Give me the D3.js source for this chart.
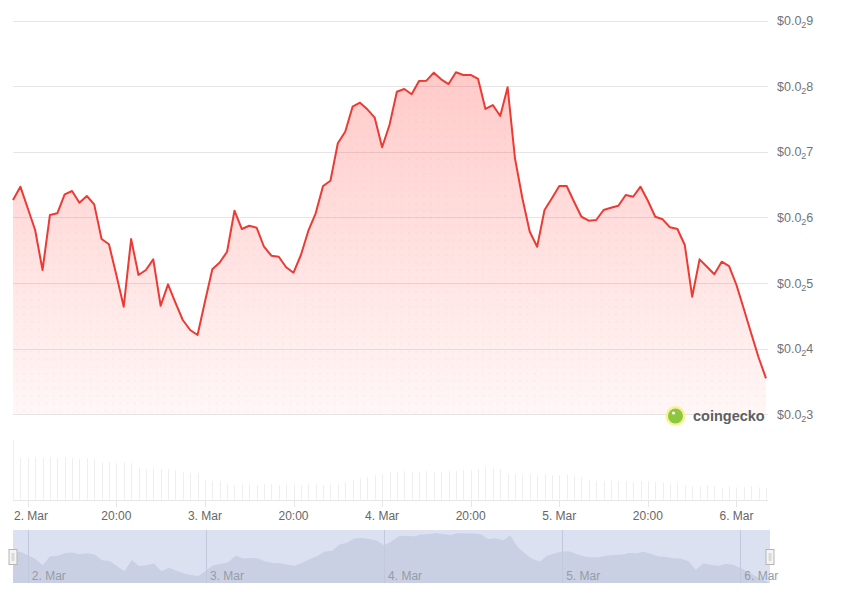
<!DOCTYPE html>
<html><head><meta charset="utf-8">
<script src="https://cdn.jsdelivr.net/npm/d3@7/dist/d3.min.js"></script>
<style>body{margin:0;background:#fff;font-family:"Liberation Sans",Arial,sans-serif}</style>
</head><body><svg id="c" width="860" height="599"></svg>
<script>
// hours relative to 2 Mar 00:00 (hourly samples)
const hours = d3.range(-2, 101);
const prices = [
0.006265,0.006468,0.006139,0.005808,0.005198,0.006036,0.006062,0.006352,0.006402,0.006224,
0.006326,0.006199,0.005671,0.005590,0.005122,0.004639,0.005671,0.005122,0.005198,0.005361,
0.004654,0.004980,0.004700,0.004437,0.004284,0.004208,0.004715,0.005209,0.005313,0.005477,
0.006102,0.005823,0.005873,0.005843,0.005553,0.005416,0.005401,0.005240,0.005157,0.005427,
0.005793,0.006062,0.006478,0.006559,0.007129,0.007306,0.007687,0.007748,0.007647,0.007519,
0.007068,0.007408,0.007915,0.007956,0.007876,0.008078,0.008083,0.008205,0.008104,0.008032,
0.008211,0.008170,0.008170,0.008109,0.007652,0.007712,0.007545,0.007982,0.006900,0.006291,
0.005782,0.005553,0.006113,0.006291,0.006478,0.006478,0.006239,0.006010,0.005950,0.005960,
0.006113,0.006148,0.006178,0.006341,0.006315,0.006468,0.006254,0.006010,0.005971,0.005849,
0.005823,0.005579,0.004792,0.005361,0.005249,0.005133,0.005325,0.005259,0.004970,0.004604,
0.004231,0.003865,0.003548];
const volumes = [
59,
41,41,42,41,42,41,42,41,40,41,40,
37,37,36,37,36,
31,30,31,30,30,29,
27,26,26,
19,18,18,
15,14,15,15,14,15,15,14,15,15,14,15,15,14,15,15,
17,19,21,22,24,25,
27,27,28,27,27,28,27,27,28,28,
29,29,30,
32,
31,30,
25,25,24,25,24,25,24,24,25,24,22,
19,18,18,19,18,18,17,18,18,17,17,16,16,
14,13,13,14,13,12,13,12,12,13,12,
11];
const yTicks = [0.003,0.004,0.005,0.006,0.007,0.008,0.009];
const xTickHours = [0,12,24,36,48,60,72,84,96];
const xTickLabels = ["2. Mar","20:00","3. Mar","20:00","4. Mar","20:00","5. Mar","20:00","6. Mar"];
const navTickHours = [0,24,48,72,96];
const navTickLabels = ["2. Mar","3. Mar","4. Mar","5. Mar","6. Mar"];

const data = hours.map((h,i)=>({h, p:prices[i], v:volumes[i]}));
const svg = d3.select("#c");
const L = 13, R = 766;
const x = d3.scaleLinear().domain([-2,100]).range([L,R]);
const y = d3.scaleLinear().domain([0.003,0.009]).range([414.3,20.5]);
const yv = d3.scaleLinear().domain([0,d3.max(volumes)]).range([499.5,440]);
const xn = d3.scaleLinear().domain([-2,100]).range([13,770]);
const yn = d3.scaleLinear().domain(d3.extent(prices)).range([583,533]);

const defs = svg.append("defs");
const g = defs.append("linearGradient").attr("id","grad").attr("gradientUnits","userSpaceOnUse")
  .attr("x1",0).attr("y1",y(0.009)).attr("x2",0).attr("y2",y(0.003));
g.append("stop").attr("offset",0).attr("stop-color","#ff3a33").attr("stop-opacity",0.30);
g.append("stop").attr("offset",1).attr("stop-color","#ff3a33").attr("stop-opacity",0.04);
const pat = defs.append("pattern").attr("id","dots").attr("patternUnits","userSpaceOnUse")
  .attr("width",7.4).attr("height",7.4).attr("x",L).attr("y",0);
pat.append("circle").attr("cx",3.7).attr("cy",3.7).attr("r",0.7).attr("fill","rgba(220,60,60,0.10)");

// grid
svg.append("g").selectAll("line").data(yTicks).join("line")
  .attr("x1",L).attr("x2",768).attr("y1",d=>Math.round(y(d))+0.5).attr("y2",d=>Math.round(y(d))+0.5)
  .attr("stroke","#e6e6e6").attr("stroke-width",1);

// y labels
function parts(v){
  const zeros = -Math.floor(Math.log10(v)) - 1;
  const digit = Math.round(v * Math.pow(10, zeros+1));
  return {zeros, digit};
}
const yl = svg.append("g").selectAll("text").data(yTicks).join("text")
  .attr("x",777).attr("y",d=>y(d)+4.5).attr("fill","#707479").attr("font-size",12.5);
yl.append("tspan").text("$0.0");
yl.append("tspan").attr("font-size",9).attr("dy",3).text(d=>parts(d).zeros);
yl.append("tspan").attr("dy",-3).text(d=>parts(d).digit);

// area + line
const area = d3.area().x(d=>x(d.h)).y0(y(0.003)).y1(d=>y(d.p));
svg.append("path").datum(data).attr("d",area).attr("fill","url(#grad)");
svg.append("path").datum(data).attr("d",area).attr("fill","url(#dots)");
const line = d3.line().x(d=>x(d.h)).y(d=>y(d.p));
svg.append("path").datum(data).attr("d",line).attr("fill","none")
  .attr("stroke","#ec3a35").attr("stroke-width",2).attr("stroke-linejoin","round");

// logo
const lg = svg.append("g");
lg.append("circle").attr("cx",675.5).attr("cy",416).attr("r",10).attr("fill","#f7ef8f").attr("opacity",0.9);
lg.append("circle").attr("cx",675.5).attr("cy",416).attr("r",7.5).attr("fill","#8dc63f");
lg.append("circle").attr("cx",673.5).attr("cy",413).attr("r",1.6).attr("fill","#fff");
lg.append("text").attr("x",693).attr("y",421).attr("font-size",14.5).attr("font-weight","bold")
  .attr("fill","#5d5f63").text("coingecko");

// volume bars
svg.append("g").selectAll("line").data(data).join("line")
  .attr("x1",d=>Math.round(x(d.h))+0.5).attr("x2",d=>Math.round(x(d.h))+0.5)
  .attr("y1",yv(0)).attr("y2",d=>yv(d.v)).attr("stroke","#eeeeee").attr("stroke-width",1);

// x axis
svg.append("line").attr("x1",L).attr("x2",R+2).attr("y1",500.5).attr("y2",500.5).attr("stroke","#e6e6e6");
svg.append("g").selectAll("line").data(xTickHours).join("line")
  .attr("x1",d=>Math.round(x(d))+0.5).attr("x2",d=>Math.round(x(d))+0.5)
  .attr("y1",500).attr("y2",507).attr("stroke","#e6e6e6");
svg.append("g").selectAll("text").data(xTickHours).join("text")
  .attr("x",d=>x(d)).attr("y",520).attr("text-anchor","middle").attr("fill","#666").attr("font-size",12)
  .text((d,i)=>xTickLabels[i])
  .each(function(d){
    const w = this.getComputedTextLength();
    const cx = x(d);
    if (cx - w/2 < L+1) d3.select(this).attr("x", L+1+w/2);
  });

// navigator
svg.append("rect").attr("x",13).attr("y",530).attr("width",757).attr("height",53).attr("fill","#dbe1f1");
const narea = d3.area().x(d=>xn(d.h)).y0(583).y1(d=>yn(d.p));
svg.append("path").datum(data).attr("d",narea).attr("fill","#c9d0e4");
svg.append("g").selectAll("line").data(navTickHours).join("line")
  .attr("x1",d=>Math.round(xn(d))+0.5).attr("x2",d=>Math.round(xn(d))+0.5)
  .attr("y1",530).attr("y2",583).attr("stroke","#c2c9dc");
svg.append("g").selectAll("text").data(navTickHours).join("text")
  .attr("x",d=>xn(d)+4).attr("y",580).attr("fill","#979ca5").attr("font-size",12)
  .text((d,i)=>navTickLabels[i]);
// handles
[xn(-2), xn(100)].forEach(cx=>{
  const hg = svg.append("g");
  hg.append("rect").attr("x",cx-4).attr("y",549.5).attr("width",8).attr("height",15)
    .attr("fill","#f4f4f4").attr("stroke","#b5b5b5");
  hg.append("rect").attr("x",cx-1.5).attr("y",553).attr("width",3).attr("height",8).attr("fill","#d9d9d9");
});
</script></body></html>
